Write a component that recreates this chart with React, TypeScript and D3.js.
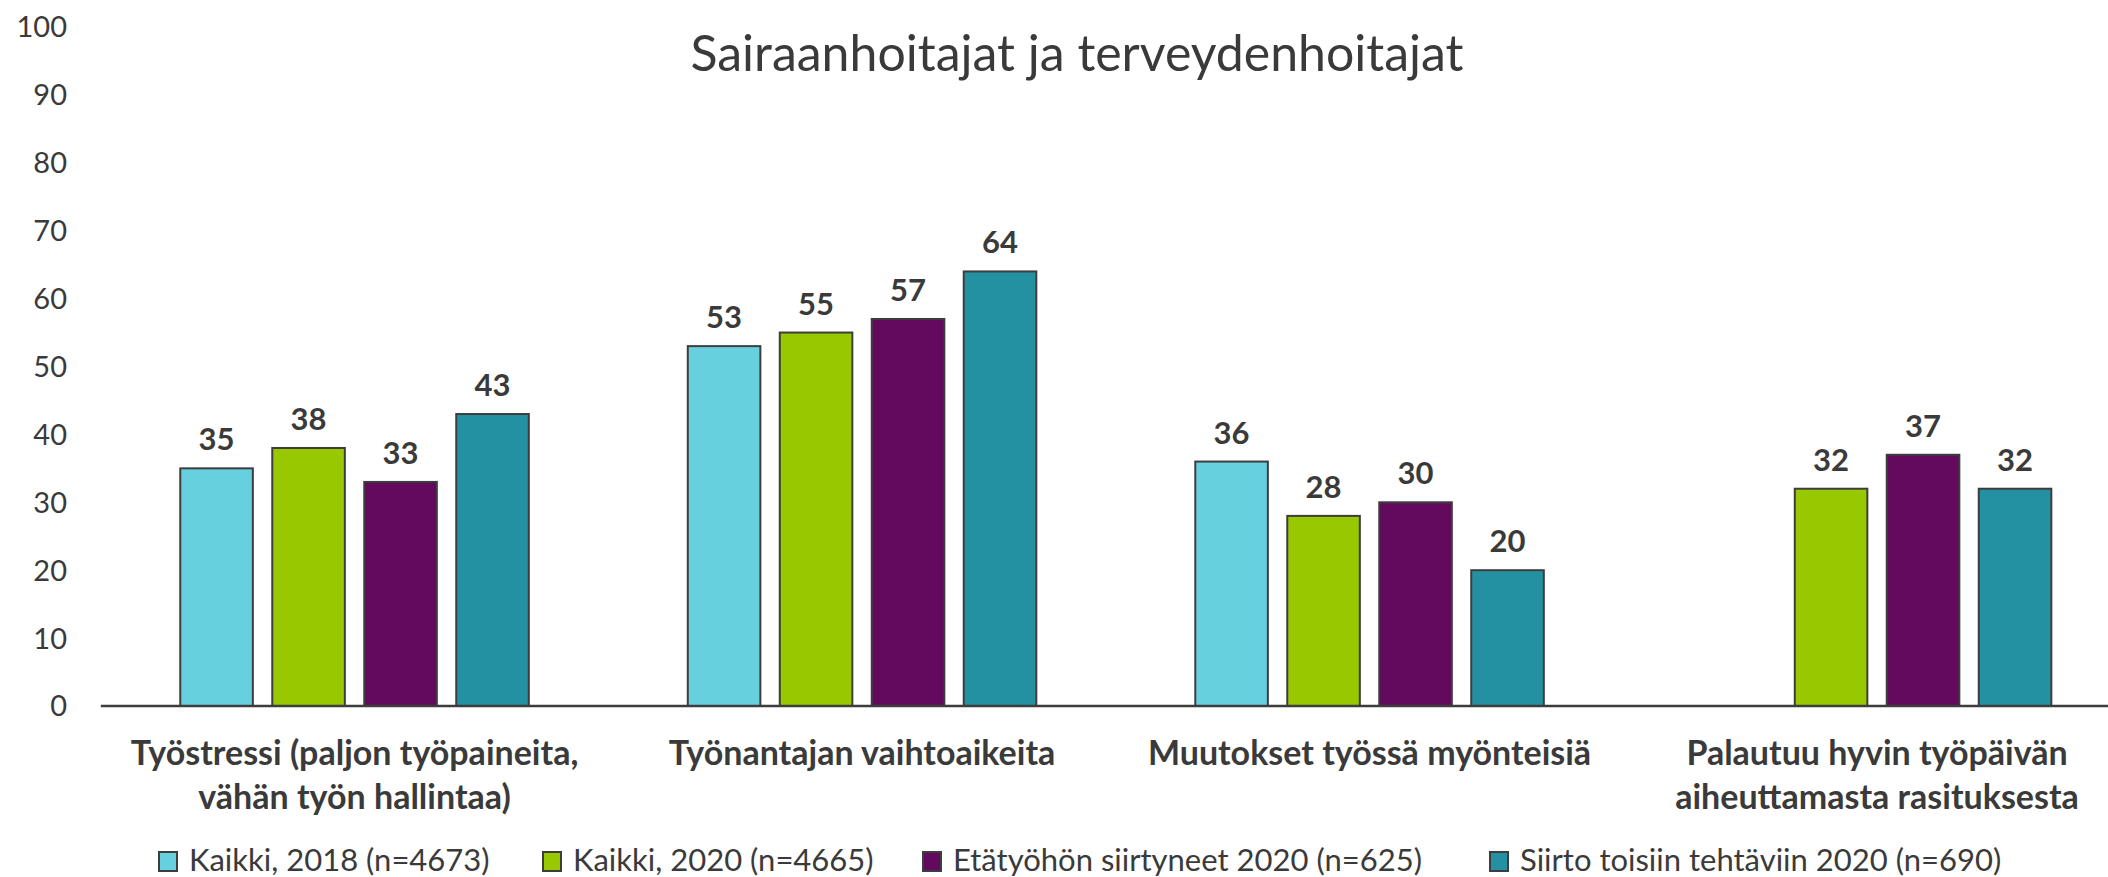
import React from "react";
import * as d3 from "d3";

const W = 2108;
const H = 877;

const title = "Sairaanhoitajat ja terveydenhoitajat";
const categories = [
  "Työstressi (paljon työpaineita,\nvähän työn hallintaa)",
  "Työnantajan vaihtoaikeita",
  "Muutokset työssä myönteisiä",
  "Palautuu hyvin työpäivän\naiheuttamasta rasituksesta",
];
const seriesNames = [
  "Kaikki, 2018 (n=4673)",
  "Kaikki, 2020 (n=4665)",
  "Etätyöhön siirtyneet 2020 (n=625)",
  "Siirto toisiin tehtäviin 2020 (n=690)",
];
const kaikki2018: (number | null)[] = [35, 53, 36, null];
const kaikki2020: (number | null)[] = [38, 55, 28, 32];
const etatyo2020: (number | null)[] = [33, 57, 30, 37];
const siirto2020: (number | null)[] = [43, 64, 20, 32];
const seriesValues = [kaikki2018, kaikki2020, etatyo2020, siirto2020];
const seriesColors = ["#66D0DF", "#97C800", "#640A5E", "#2391A2"];
const yTicks = [0, 10, 20, 30, 40, 50, 60, 70, 80, 90, 100];

const FONT = "Lato, 'Open Sans', sans-serif";
const TEXT = "#3a3a3a";
const STROKE = "#3d3d3d";

// legend item left edges (layout)
const legendX = [159, 543, 923, 1490];

export default function App() {
  const plotLeft = 100.8;
  const groupStep = 507.5;
  const y = d3.scaleLinear().domain([0, 100]).range([706, 27]);
  const x0 = d3
    .scaleBand<string>()
    .domain(categories)
    .range([plotLeft, plotLeft + groupStep * categories.length])
    .padding(0);
  const x1 = d3
    .scaleBand<string>()
    .domain(seriesNames)
    .range([0, x0.bandwidth()])
    .paddingInner(0.211)
    .paddingOuter(0.864);

  return (
    <svg
      width={W}
      height={H}
      style={{ position: "absolute", left: 0, top: 0, display: "block", background: "#fff" }}
      fontFamily={FONT}
    >
      <rect x={0} y={0} width={W} height={H} fill="#fff" />
      <text x={1077} y={71} textAnchor="middle" fontSize={50} fill={TEXT}>
        {title}
      </text>

      {yTicks.map((t) => (
        <text
          key={t}
          x={67}
          y={y(t)}
          dy="0.36em"
          textAnchor="end"
          fontSize={29}
          fill={TEXT}
        >
          {t}
        </text>
      ))}

      {categories.map((cat, ci) =>
        seriesNames.map((s, si) => {
          const v = seriesValues[si][ci];
          if (v === null || v === undefined) return null;
          const bx = (x0(cat) as number) + (x1(s) as number);
          const bw = x1.bandwidth();
          return (
            <g key={cat + s}>
              <rect
                x={bx}
                y={y(v)}
                width={bw}
                height={y(0) - y(v)}
                fill={seriesColors[si]}
                stroke={STROKE}
                strokeWidth={2}
              />
              <text
                x={bx + bw / 2}
                y={y(v) - 18}
                textAnchor="middle"
                fontSize={31}
                fontWeight="bold"
                fill={TEXT}
              >
                {v}
              </text>
            </g>
          );
        })
      )}

      <line x1={plotLeft} x2={W} y1={y(0)} y2={y(0)} stroke={STROKE} strokeWidth={2.6} />

      {categories.map((cat) => {
        const cx = (x0(cat) as number) + x0.bandwidth() / 2;
        return (
          <text key={cat} textAnchor="middle" fontSize={34} fontWeight="bold" fill={TEXT}>
            {cat.split("\n").map((line, li) => (
              <tspan key={li} x={cx} y={765 + li * 44}>
                {line}
              </tspan>
            ))}
          </text>
        );
      })}

      {seriesNames.map((name, i) => (
        <g key={name}>
          <rect
            x={legendX[i]}
            y={852}
            width={18}
            height={19}
            fill={seriesColors[i]}
            stroke={STROKE}
            strokeWidth={2}
          />
          <text x={legendX[i] + 30} y={871} fontSize={31} fill={TEXT}>
            {name}
          </text>
        </g>
      ))}
    </svg>
  );
}
